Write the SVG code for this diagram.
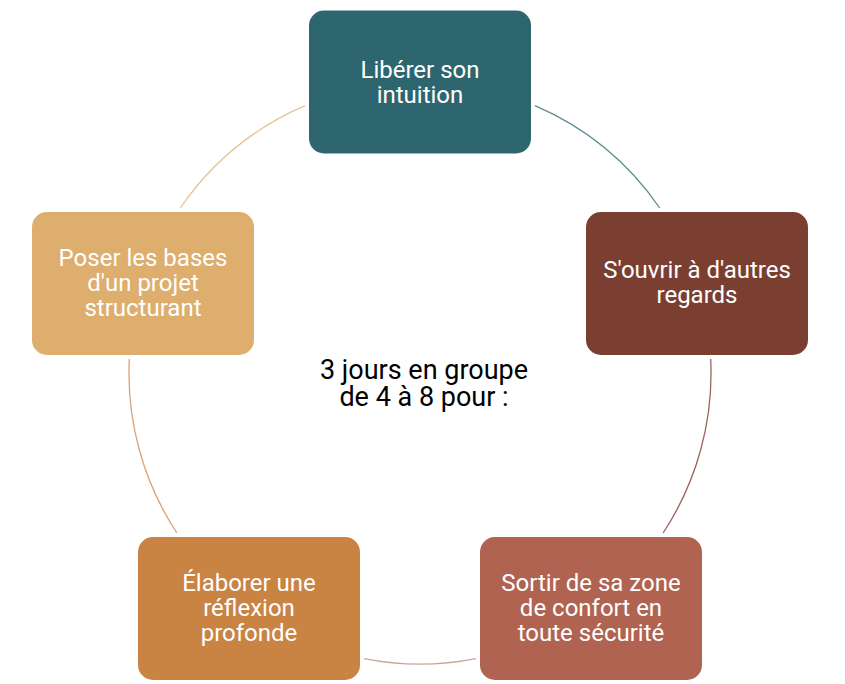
<svg xmlns="http://www.w3.org/2000/svg" width="845" height="684" viewBox="0 0 845 684">
<style>
.node text{font-family:Roboto,"Liberation Sans",sans-serif;font-size:24px;fill:#ffffff;text-anchor:middle}
.center{font-family:Roboto,"Liberation Sans",sans-serif;font-size:27px;fill:#000000;text-anchor:middle}
.arc{fill:none;stroke-width:1.3}
</style>
<rect width="845" height="684" fill="#ffffff"/>
<g id="connectors">
<path class="arc" stroke="#5e8b91" d="M535,105.7 A291,291 0 0 1 659.7,208"/>
<path class="arc" stroke="#9a6659" d="M710.7,359 A291,291 0 0 1 663.1,533"/>
<path class="arc" stroke="#d0a398" d="M476,658.6 A291,291 0 0 1 364,658.6"/>
<path class="arc" stroke="#d9a37a" d="M176.9,533 A291,291 0 0 1 129.3,359"/>
<path class="arc" stroke="#e6c394" d="M180.3,208 A291,291 0 0 1 305,105.7"/>
</g>
<g id="node-top" class="node">
<rect x="309" y="10.5" width="222" height="143" rx="15" fill="#2d666e"/>
<text x="420" y="77.5">Libérer son</text>
<text x="420" y="102.5">intuition</text>
</g>
<g id="node-right" class="node">
<rect x="586" y="212" width="222" height="143" rx="15" fill="#7b3f32"/>
<text x="697" y="278">S'ouvrir à d'autres</text>
<text x="697" y="303">regards</text>
</g>
<g id="node-bottom-right" class="node">
<rect x="480" y="537" width="222" height="143" rx="15" fill="#b06351"/>
<text x="591" y="591">Sortir de sa zone</text>
<text x="591" y="616">de confort en</text>
<text x="591" y="641">toute sécurité</text>
</g>
<g id="node-bottom-left" class="node">
<rect x="138" y="537" width="222" height="143" rx="15" fill="#c98343"/>
<text x="249" y="591">Élaborer une</text>
<text x="249" y="616">réflexion</text>
<text x="249" y="641">profonde</text>
</g>
<g id="node-left" class="node">
<rect x="32" y="212" width="222" height="143" rx="15" fill="#ddae6d"/>
<text x="143" y="266">Poser les bases</text>
<text x="143" y="291">d'un projet</text>
<text x="143" y="316">structurant</text>
</g>
<g id="center-label">
<text class="center" x="424" y="379">3 jours en groupe</text>
<text class="center" x="424" y="406">de 4 à 8 pour :</text>
</g>
</svg>
